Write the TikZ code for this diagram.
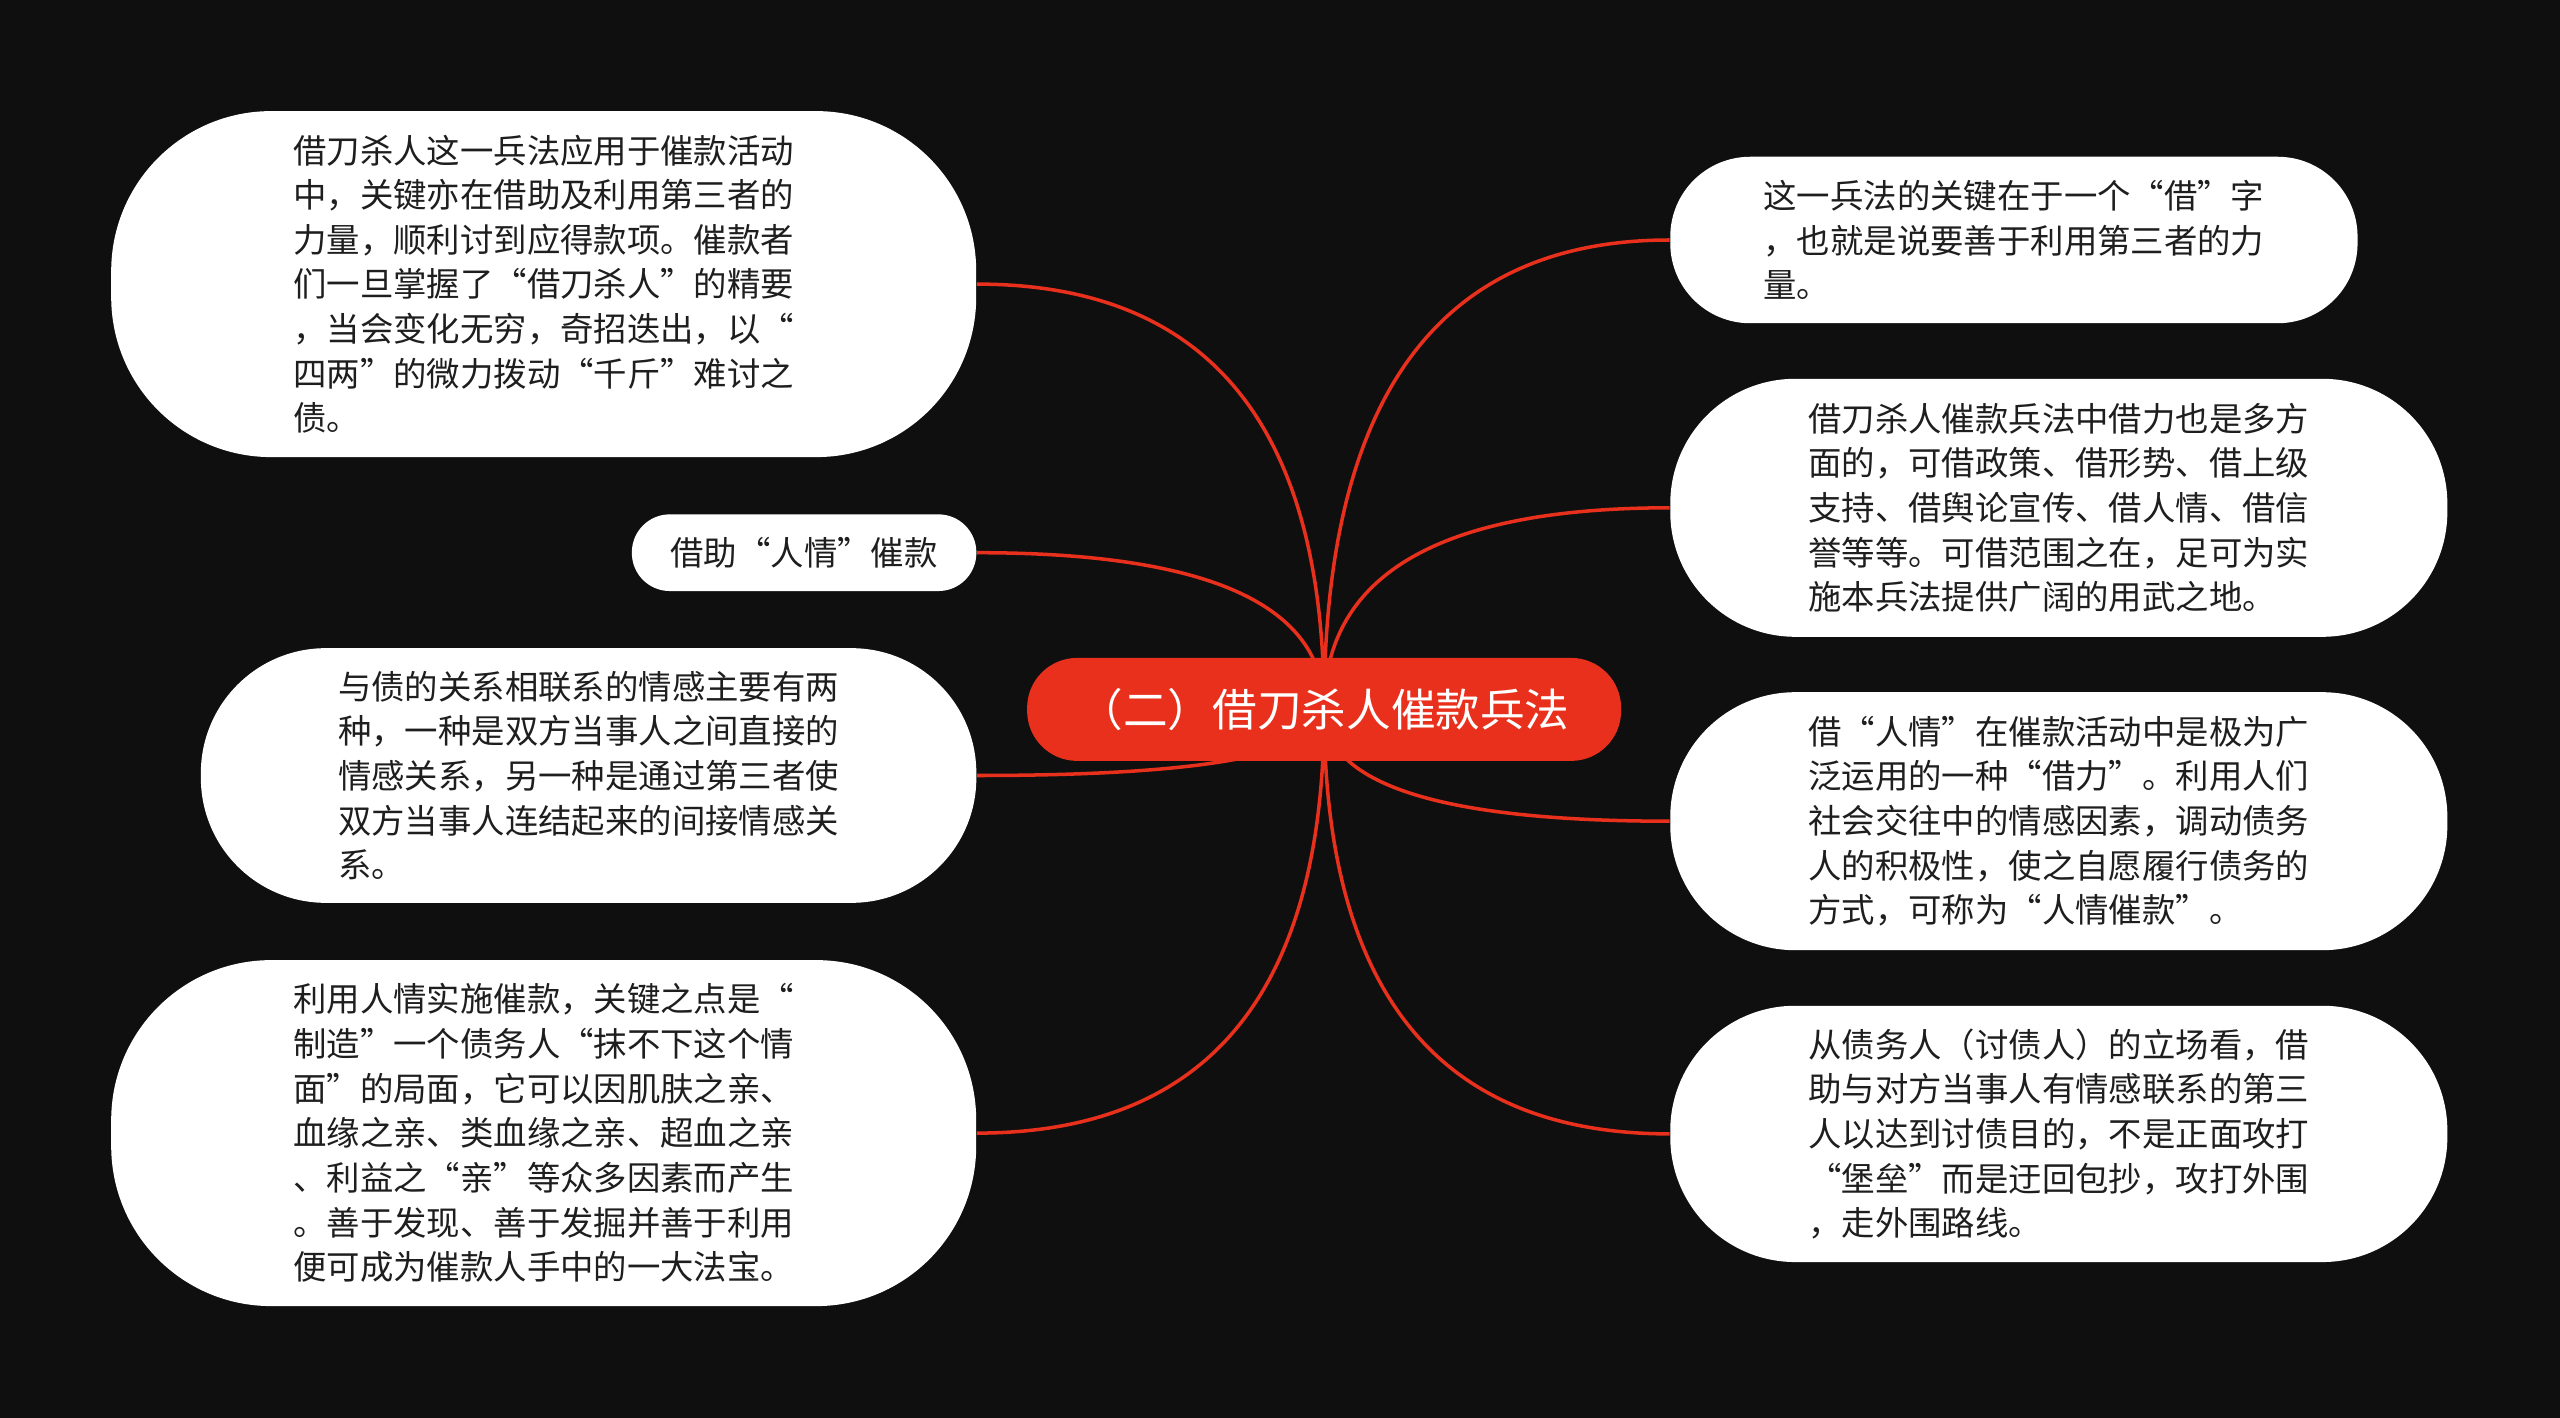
\documentclass[tikz,border=0pt]{standalone}
\usepackage{fontspec}
\setmainfont{Noto Sans CJK SC}
\usetikzlibrary{calc, backgrounds}

\definecolor{bgblack}{HTML}{0F0F0F}
\definecolor{mapred}{HTML}{E8301C}
\definecolor{inkgrey}{HTML}{1E1E1E}

\tikzset{
  topic/.style={fill=white, text=inkgrey, align=left, inner sep=0pt,
    font=\fontsize{9.5pt}{12.7pt}\selectfont},
  link/.style={draw=mapred, line width=1pt}
}

\begin{document}
\begin{tikzpicture}
            \node[fill=mapred, text=white, rounded corners=0.5cm, minimum width=5.94cm, minimum height=1.03cm, inner sep=0pt, font=\fontsize{12.7pt}{14pt}\selectfont] (hub) at (13.241, -7.094) {（二）借刀杀人催款兵法};
            % left side
            \node[topic, rounded corners=1.6cm, minimum width=8.65cm, minimum height=3.46cm] (knife) at (5.437, -2.841) {借刀杀人这一兵法应用于催款活动\\中，关键亦在借助及利用第三者的\\力量，顺利讨到应得款项。催款者\\们一旦掌握了“借刀杀人”的精要\\，当会变化无穷，奇招迭出，以“\\四两”的微力拨动“千斤”难讨之\\债。};
            \node[topic, rounded corners=0.38cm, minimum width=3.445cm, minimum height=0.767cm] (favor) at (8.041, -5.527) {借助“人情”催款};
            \node[topic, rounded corners=1.25cm, minimum width=7.755cm, minimum height=2.547cm] (bond) at (5.886, -7.755) {与债的关系相联系的情感主要有两\\种，一种是双方当事人之间直接的\\情感关系，另一种是通过第三者使\\双方当事人连结起来的间接情感关\\系。};
            \node[topic, rounded corners=1.6cm, minimum width=8.65cm, minimum height=3.46cm] (face) at (5.437, -11.331) {利用人情实施催款，关键之点是“\\制造”一个债务人“抹不下这个情\\面”的局面，它可以因肌肤之亲、\\血缘之亲、类血缘之亲、超血之亲\\、利益之“亲”等众多因素而产生\\。善于发现、善于发掘并善于利用\\便可成为催款人手中的一大法宝。};
            % right side
            \node[topic, rounded corners=0.8cm, minimum width=6.873cm, minimum height=1.665cm] (key) at (20.139, -2.400) {这一兵法的关键在于一个“借”字\\，也就是说要善于利用第三者的力\\量。};
            \node[topic, rounded corners=1.25cm, minimum width=7.771cm, minimum height=2.58cm] (ways) at (20.588, -5.078) {借刀杀人催款兵法中借力也是多方\\面的，可借政策、借形势、借上级\\支持、借舆论宣传、借人情、借信\\誉等等。可借范围之在，足可为实\\施本兵法提供广阔的用武之地。};
            \node[topic, rounded corners=1.25cm, minimum width=7.771cm, minimum height=2.58cm] (social) at (20.588, -8.212) {借“人情”在催款活动中是极为广\\泛运用的一种“借力”。利用人们\\社会交往中的情感因素，调动债务\\人的积极性，使之自愿履行债务的\\方式，可称为“人情催款”。};
            \node[topic, rounded corners=1.25cm, minimum width=7.771cm, minimum height=2.563cm] (detour) at (20.588, -11.339) {从债务人（讨债人）的立场看，借\\助与对方当事人有情感联系的第三\\人以达到讨债目的，不是正面攻打\\“堡垒”而是迂回包抄，攻打外围\\，走外围路线。};
            % background and connectors
            \begin{pgfonlayer}{background}
            \fill[bgblack] (0, 0) rectangle (25.6, -14.18);
            \draw[link] (hub.center) .. controls ($(hub.center)!.667!(hub.center |- knife.east)$) and ($(knife.east)!.667!(hub.center |- knife.east)$) .. (knife.east);
            \draw[link] (hub.center) .. controls ($(hub.center)!.667!(hub.center |- favor.east)$) and ($(favor.east)!.667!(hub.center |- favor.east)$) .. (favor.east);
            \draw[link] (hub.center) .. controls ($(hub.center)!.667!(hub.center |- bond.east)$) and ($(bond.east)!.667!(hub.center |- bond.east)$) .. (bond.east);
            \draw[link] (hub.center) .. controls ($(hub.center)!.667!(hub.center |- face.east)$) and ($(face.east)!.667!(hub.center |- face.east)$) .. (face.east);
            \draw[link] (hub.center) .. controls ($(hub.center)!.667!(hub.center |- key.west)$) and ($(key.west)!.667!(hub.center |- key.west)$) .. (key.west);
            \draw[link] (hub.center) .. controls ($(hub.center)!.667!(hub.center |- ways.west)$) and ($(ways.west)!.667!(hub.center |- ways.west)$) .. (ways.west);
            \draw[link] (hub.center) .. controls ($(hub.center)!.667!(hub.center |- social.west)$) and ($(social.west)!.667!(hub.center |- social.west)$) .. (social.west);
            \draw[link] (hub.center) .. controls ($(hub.center)!.667!(hub.center |- detour.west)$) and ($(detour.west)!.667!(hub.center |- detour.west)$) .. (detour.west);
            \end{pgfonlayer}
        \end{tikzpicture}
\end{document}
